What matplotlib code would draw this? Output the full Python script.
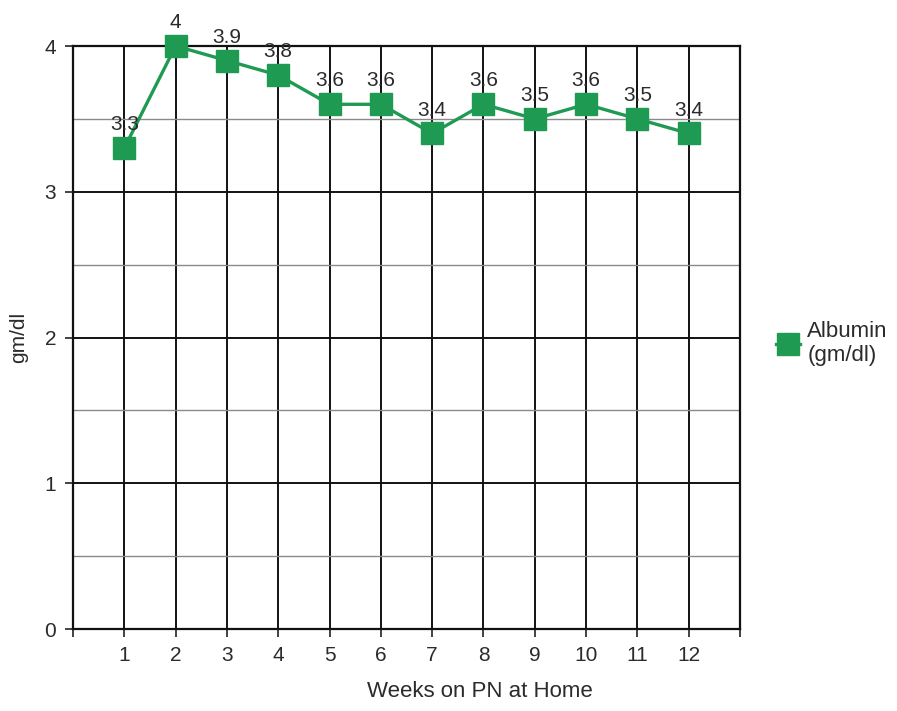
import matplotlib.pyplot as plt
from matplotlib.ticker import MultipleLocator

plt.rcParams['font.family'] = ['Liberation Sans', 'DejaVu Sans']

# data
weeks = [1, 2, 3, 4, 5, 6, 7, 8, 9, 10, 11, 12]
albumin = [3.3, 4.0, 3.9, 3.8, 3.6, 3.6, 3.4, 3.6, 3.5, 3.6, 3.5, 3.4]
value_labels = ['3.3', '4', '3.9', '3.8', '3.6', '3.6', '3.4', '3.6', '3.5', '3.6', '3.5', '3.4']

green = '#1f9a52'
txt = '#2b2b2b'

fig = plt.figure(figsize=(8.97, 7.11), dpi=100)
ax = fig.add_axes([0.0814, 0.1153, 0.7436, 0.82])

ax.plot(weeks, albumin, color=green, linewidth=2.4, marker='s', markersize=16,
        label='Albumin\n(gm/dl)', zorder=5, clip_on=False)

for x, y, s in zip(weeks, albumin, value_labels):
    ax.annotate(s, (x, y), xytext=(0, 10), textcoords='offset points',
                ha='center', va='bottom', fontsize=15, color=txt, zorder=6)

ax.set_xlim(0, 13)
ax.set_ylim(0, 4)
ax.set_xticks(range(0, 14))
ax.set_xticklabels([''] + [str(w) for w in weeks] + [''])
ax.yaxis.set_major_locator(MultipleLocator(1))
ax.yaxis.set_minor_locator(MultipleLocator(0.5))

ax.grid(which='major', color='#111111', linewidth=1.4)
ax.grid(which='minor', axis='y', color='#8a8a8a', linewidth=1.0)
ax.tick_params(which='minor', length=0)
ax.tick_params(which='major', length=6, width=1.2, color='#222222',
               labelsize=15, labelcolor=txt, pad=6)
ax.set_axisbelow(True)

for sp in ax.spines.values():
    sp.set_color('#111111')
    sp.set_linewidth(1.6)

ax.set_xlabel('Weeks on PN at Home', fontsize=16, color=txt, labelpad=12, x=0.61)
ax.set_ylabel('gm/dl', fontsize=15, color=txt, labelpad=12)

ax.legend(loc='center left', bbox_to_anchor=(1.024, 0.49), frameon=False,
          handlelength=1.1, fontsize=16, labelcolor=txt, handletextpad=0.3,
          labelspacing=0.2)

fig.savefig('out.png', dpi=100)
